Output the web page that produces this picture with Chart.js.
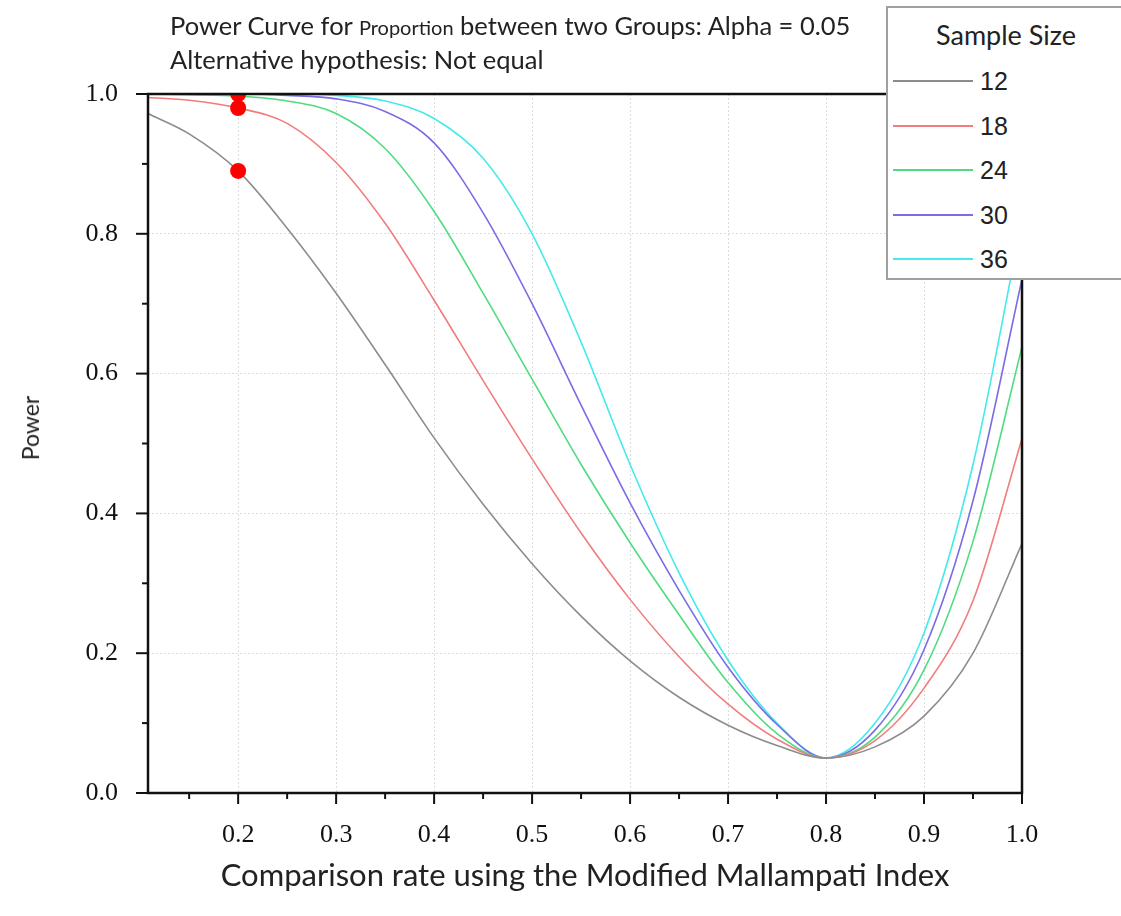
<!DOCTYPE html>
<html>
<head>
<meta charset="utf-8">
<script src="https://cdn.jsdelivr.net/npm/chart.js@4.4.1/dist/chart.umd.min.js"></script>
<style>
  body { margin: 0; background: #fff; }
  #wrap { position: relative; width: 1121px; height: 916px; overflow: hidden; }
  #title { position: absolute; left: 170px; top: 9px; font-family: Lato, sans-serif; font-size: 25.5px; line-height: 32px; color: #222; white-space: nowrap; }
  #title .small { font-size: 20px; }
  #ytitle { position: absolute; left: 30px; top: 428px; transform: translate(-50%, -50%) rotate(-90deg); font-family: Lato, sans-serif; font-size: 23px; color: #222; white-space: nowrap; }
  #legend { position: absolute; left: 886px; top: 6px; width: 240px; height: 274px; background: #fff; border: 2px solid #a0a0a0; box-sizing: border-box; }
  #legend .head { position: absolute; left: 0; width: 236px; top: 10px; text-align: center; font-family: Lato, sans-serif; font-size: 27px; color: #222; }
  #legend .row { position: absolute; left: 5px; height: 30px; }
  #legend .swatch { position: absolute; left: 0; top: 14px; width: 80px; height: 2px; }
  #legend .lbl { position: absolute; left: 87px; top: 0; font-family: "Liberation Sans", Arial, sans-serif; font-size: 25px; line-height: 30px; color: #222; }
</style>
</head>
<body>
<div id="wrap">
  <canvas id="myChart" width="1121" height="916"></canvas>
  <div id="title">Power Curve for <span class="small">Proportion</span> between two Groups: Alpha = 0.05<br>Alternative hypothesis: Not equal</div>
  <div id="ytitle">Power</div>
  <div id="legend"></div>
</div>
<script>
// dữ liệu
const rates = [0.108, 0.15, 0.2, 0.25, 0.3, 0.35, 0.4, 0.45, 0.5, 0.55, 0.6, 0.65, 0.7, 0.75, 0.8, 0.85, 0.9, 0.95, 1.0];
const sampleSizes = ['12', '18', '24', '30', '36'];
const power12 = [0.972, 0.943, 0.890, 0.808, 0.715, 0.613, 0.508, 0.413, 0.328, 0.253, 0.189, 0.137, 0.097, 0.068, 0.050, 0.066, 0.110, 0.200, 0.357];
const power18 = [0.995, 0.991, 0.980, 0.958, 0.902, 0.815, 0.705, 0.590, 0.478, 0.372, 0.277, 0.195, 0.127, 0.077, 0.050, 0.075, 0.150, 0.275, 0.507];
const power24 = [1.000, 0.999, 0.997, 0.990, 0.972, 0.922, 0.832, 0.715, 0.592, 0.470, 0.358, 0.255, 0.158, 0.085, 0.050, 0.080, 0.176, 0.360, 0.638];
const power30 = [1.000, 1.000, 1.000, 0.998, 0.993, 0.975, 0.930, 0.830, 0.700, 0.555, 0.415, 0.290, 0.180, 0.098, 0.050, 0.090, 0.205, 0.418, 0.735];
const power36 = [1.000, 1.000, 1.000, 1.000, 0.998, 0.990, 0.965, 0.908, 0.800, 0.645, 0.470, 0.315, 0.190, 0.100, 0.050, 0.100, 0.229, 0.470, 0.820];
const dotX = [0.2, 0.2, 0.2];
const dotY = [1.0, 0.98, 0.89];
const xTicks = [0.15, 0.2, 0.25, 0.3, 0.35, 0.4, 0.45, 0.5, 0.55, 0.6, 0.65, 0.7, 0.75, 0.8, 0.85, 0.9, 0.95, 1.0];
const yTicks = [0, 0.1, 0.2, 0.3, 0.4, 0.5, 0.6, 0.7, 0.8, 0.9, 1.0];

const allPower = [power12, power18, power24, power30, power36];
const colors = ['#8c8c8c', '#f27c7c', '#4fdc80', '#7a6ce6', '#45eaea'];

const isMajorX = v => Math.abs(v * 10 - Math.round(v * 10)) < 1e-6;
const isMajorY = v => Math.abs(v * 5 - Math.round(v * 5)) < 1e-6;

let datasets = [{
  label: 'dots',
  type: 'scatter',
  data: dotX.map((x, i) => ({ x: x, y: dotY[i] })),
  backgroundColor: '#ff0000',
  borderWidth: 0,
  pointRadius: 8,
  order: 0
}];
allPower.forEach(function (arr, i) {
  datasets.push({
    label: sampleSizes[i],
    data: rates.map((r, j) => ({ x: r, y: arr[j] })),
    borderColor: colors[i],
    borderWidth: 1.6,
    pointRadius: 0,
    cubicInterpolationMode: 'monotone',
    fill: false,
    order: 1
  });
});

// vẽ vạch chia và khung
const frameTicks = {
  id: 'frameTicks',
  afterDatasetsDraw(chart) {
    const ctx = chart.ctx;
    const a = chart.chartArea;
    const xs = chart.scales.x, ys = chart.scales.y;
    ctx.save();
    ctx.strokeStyle = '#111';
    ctx.lineWidth = 2;
    xs.ticks.forEach(function (t) {
      const px = xs.getPixelForValue(t.value);
      const len = isMajorX(t.value) ? 11 : 6;
      ctx.beginPath();
      ctx.moveTo(px, a.bottom);
      ctx.lineTo(px, a.bottom + len);
      ctx.stroke();
    });
    ys.ticks.forEach(function (t) {
      const py = ys.getPixelForValue(t.value);
      const len = isMajorY(t.value) ? 12 : 6;
      ctx.beginPath();
      ctx.moveTo(a.left, py);
      ctx.lineTo(a.left - len, py);
      ctx.stroke();
    });
    ctx.lineWidth = 2.5;
    ctx.strokeRect(a.left, a.top, a.right - a.left, a.bottom - a.top);
    ctx.restore();
  }
};

const chart = new Chart(document.getElementById('myChart'), {
  type: 'line',
  data: { datasets: datasets },
  plugins: [frameTicks],
  options: {
    responsive: false,
    animation: false,
    devicePixelRatio: 1,
    layout: { padding: { left: 0, right: 99, top: 94, bottom: 0 } },
    plugins: {
      legend: { display: false },
      tooltip: { enabled: false }
    },
    scales: {
      x: {
        type: 'linear',
        min: 0.108,
        max: 1.0,
        afterFit: function (scale) { scale.height = 123; },
        afterBuildTicks: function (scale) { scale.ticks = xTicks.map(v => ({ value: v })); },
        grid: {
          drawTicks: false,
          color: ctx => (ctx.tick && isMajorX(ctx.tick.value) ? '#dcdcdc' : 'rgba(0,0,0,0)'),
          lineWidth: 1
        },
        border: { display: false, dash: [2, 2] },
        ticks: {
          autoSkip: false,
          maxRotation: 0,
          padding: 27,
          color: '#111',
          font: { family: '"Liberation Serif", "Times New Roman", serif', size: 26 },
          callback: v => (isMajorX(v) ? v.toFixed(1) : '')
        },
        title: {
          display: true,
          text: 'Comparison rate using the Modified Mallampati Index',
          color: '#222',
          font: { family: 'Lato, sans-serif', size: 31 },
          padding: { top: 0, bottom: 21 }
        }
      },
      y: {
        min: 0,
        max: 1,
        afterFit: function (scale) { scale.width = 148; },
        afterBuildTicks: function (scale) { scale.ticks = yTicks.map(v => ({ value: v })); },
        grid: {
          drawTicks: false,
          color: ctx => (ctx.tick && isMajorY(ctx.tick.value) ? '#dcdcdc' : 'rgba(0,0,0,0)'),
          lineWidth: 1
        },
        border: { display: false, dash: [2, 2] },
        ticks: {
          autoSkip: false,
          padding: 30,
          color: '#111',
          font: { family: '"Liberation Serif", "Times New Roman", serif', size: 26 },
          callback: v => (isMajorY(v) ? v.toFixed(1) : '')
        },
        title: { display: false }
      }
    }
  }
});

// chú thích html
const legendEl = document.getElementById('legend');
let html = '<div class="head">Sample Size</div>';
chart.data.datasets.forEach(function (ds) {
  if (ds.label === 'dots') return;
  const i = sampleSizes.indexOf(ds.label);
  html += '<div class="row" style="top:' + (58 + i * 44.5) + 'px">' +
    '<div class="swatch" style="background:' + ds.borderColor + '"></div>' +
    '<div class="lbl">' + ds.label + '</div></div>';
});
legendEl.innerHTML = html;
</script>
</body>
</html>
